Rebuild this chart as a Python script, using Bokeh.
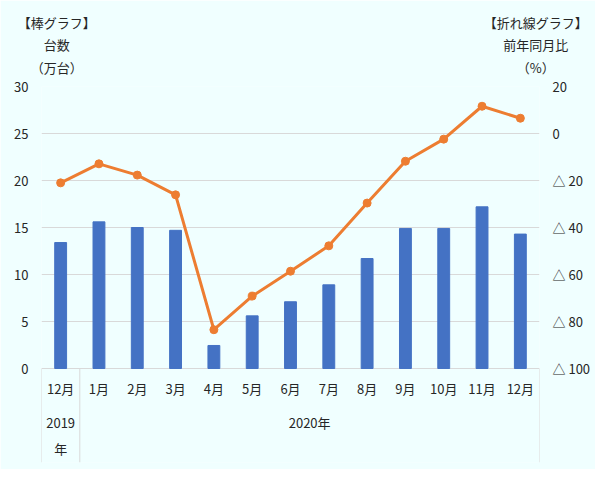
from bokeh.plotting import figure
from bokeh.models import Range1d, LinearAxis, FixedTicker
from bokeh.embed import file_html
from bokeh.resources import INLINE
from bokeh.core.properties import value

months = ["12月", "1月", "2月", "3月", "4月", "5月", "6月", "7月", "8月", "9月", "10月", "11月", "12月"]
units = [13.4, 15.6, 15.0, 14.7, 2.45, 5.6, 7.1, 8.9, 11.7, 14.9, 14.9, 17.2, 14.3]
yoy = [-21.0, -12.9, -17.7, -26.1, -83.5, -69.2, -58.6, -47.8, -29.6, -11.8, -2.4, 11.6, 6.5]
left_ticks = [0, 5, 10, 15, 20, 25, 30]
right_ticks = [20, 0, -20, -40, -60, -80, -100]
right_labels = ["20", "0", "△ 20", "△ 40", "△ 60", "△ 80", "△ 100"]
year_labels = ["2019", "年", "2020年"]
# header rows: (left text, right text), from the plot upwards
header_rows = [("（万台）", "（%）"), ("台数", "前年同月比"), ("【棒グラフ】", "【折れ線グラフ】")]

FONT = "Noto Sans CJK JP"
TXT = "#262626"
BG = "#F0FFFF"

xs = list(range(len(months)))

p = figure(width=595, height=469, output_backend="svg", toolbar_location=None,
           x_range=Range1d(-0.5, 12.5), y_range=Range1d(-10, 30),
           x_axis_location=None, min_border_left=41, min_border_right=56,
           min_border_top=86, min_border_bottom=7)
p.background_fill_color = BG
p.border_fill_color = BG
p.outline_line_color = None
p.xgrid.visible = False
p.ygrid.ticker = FixedTicker(ticks=left_ticks)
p.ygrid.grid_line_color = "#D9D9D9"

p.extra_y_ranges = {"y2": Range1d(-140, 20)}
ax2 = LinearAxis(y_range_name="y2", ticker=FixedTicker(ticks=right_ticks),
                 major_label_overrides={t: l for t, l in zip(right_ticks, right_labels)})
p.add_layout(ax2, "right")

p.yaxis.ticker = FixedTicker(ticks=left_ticks)
ax2.ticker = FixedTicker(ticks=right_ticks)
for ax in p.yaxis:
    ax.axis_line_color = None
    ax.major_tick_line_color = None
    ax.minor_tick_line_color = None
    ax.major_tick_out = 0
    ax.major_tick_in = 0
    ax.major_label_standoff = 13
    ax.major_label_text_font = FONT
    ax.major_label_text_font_size = "13px"
    ax.major_label_text_color = TXT

# header texts as label rows of axes placed above the plot
for (lt, rt), standoff in zip(header_rows, [10, 1, 0]):
    hx = LinearAxis(ticker=FixedTicker(ticks=[-0.1, 12.4]),
                    major_label_overrides={-0.1: lt, 12.4: rt})
    hx.axis_line_color = None
    hx.major_tick_line_color = None
    hx.minor_tick_line_color = None
    hx.major_tick_out = 0
    hx.major_tick_in = 0
    hx.major_label_standoff = standoff
    hx.major_label_text_font = FONT
    hx.major_label_text_font_size = "13px"
    hx.major_label_text_color = TXT
    p.add_layout(hx, "above")

p.vbar(x=xs, top=units, width=0.31, bottom=0, color="#4472C4")
p.line(x=xs, y=yoy, y_range_name="y2", line_color="#ED7D31", line_width=3)
p.scatter(x=xs, y=yoy, y_range_name="y2", size=8, color="#ED7D31")

# category table below the plot
p.segment(x0=[-0.5, 0.5, 12.5], y0=[0, 0, 0], x1=[-0.5, 0.5, 12.5], y1=[-10, -10, -10],
          line_color="#D9D9D9", line_width=1)
p.text(x=xs, y=[-2.15] * len(xs), text=months, text_font=value(FONT), text_font_size=value("13px"),
       text_align="center", text_baseline="middle", text_color=TXT)
p.text(x=[0, 0, 6.5], y=[-5.75, -8.5, -5.75], text=year_labels, text_font=value(FONT),
       text_font_size=value("13px"), text_align="center", text_baseline="middle", text_color=TXT)

open("out.html", "w").write(file_html(p, INLINE))
